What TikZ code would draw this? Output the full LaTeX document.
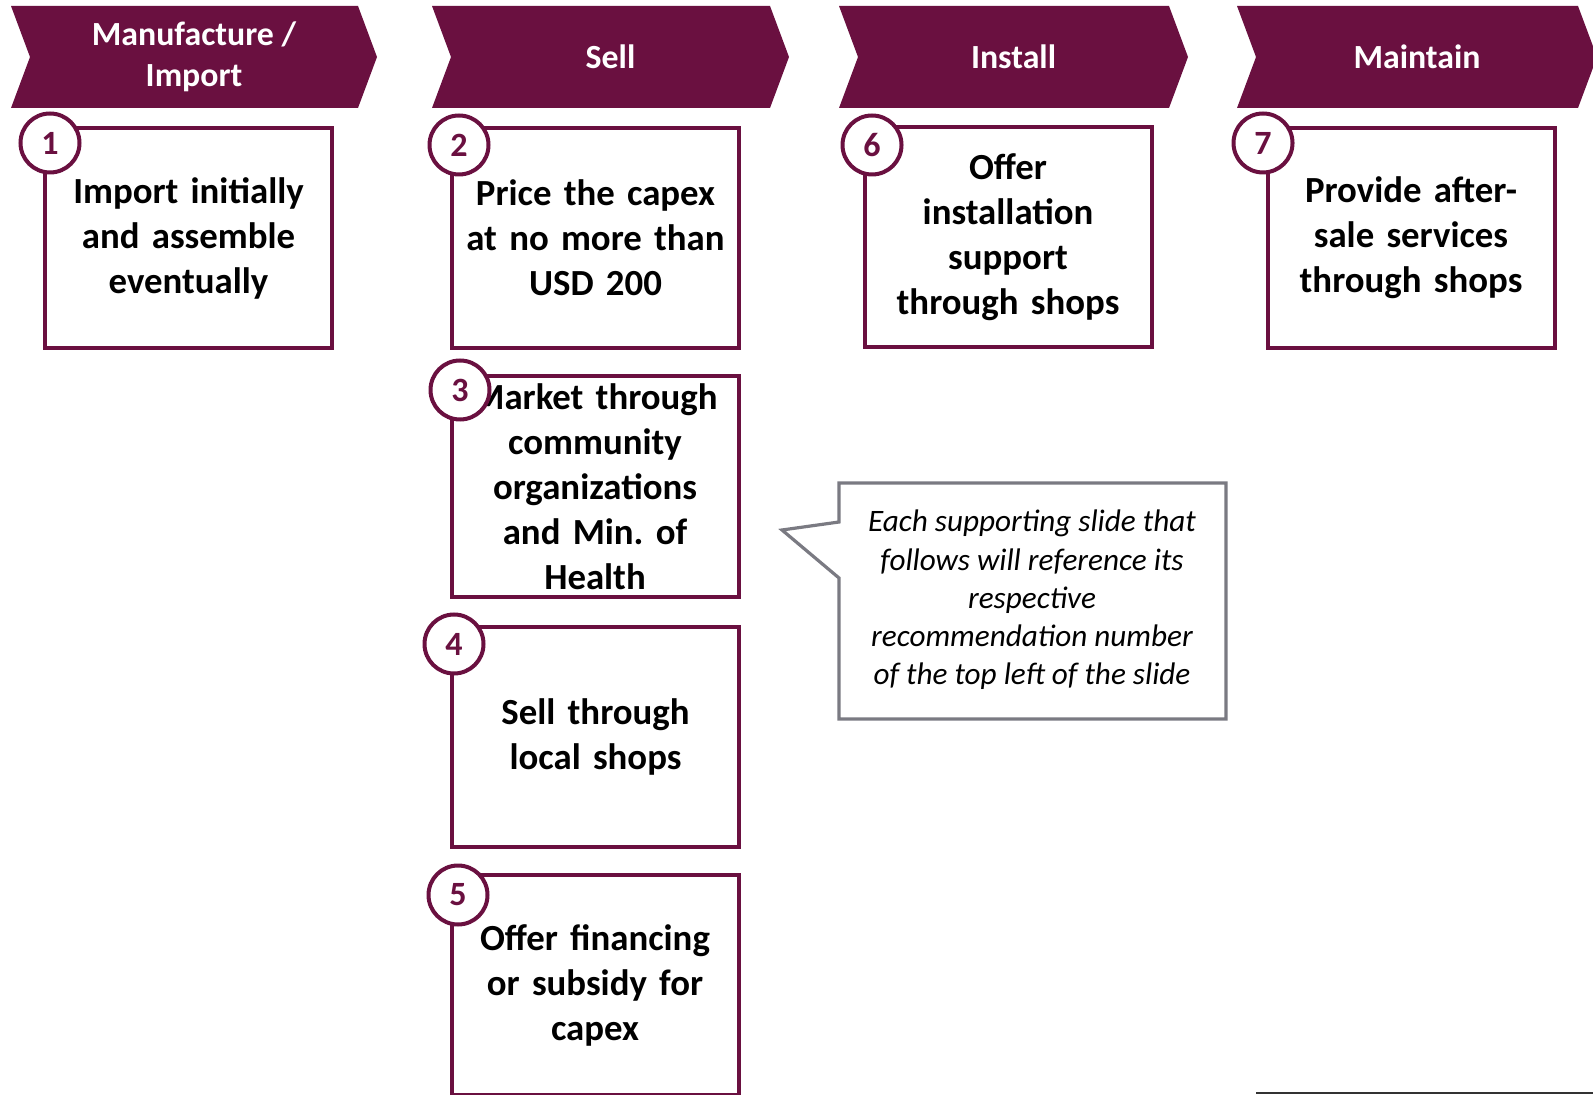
\documentclass[tikz,border=0pt]{standalone}
\usepackage{fontspec}
\setmainfont{Carlito}
\usetikzlibrary{positioning}
\definecolor{plum}{RGB}{106,16,64}
\definecolor{notegray}{RGB}{122,122,130}
\definecolor{rulegray}{RGB}{51,51,51}
\frenchspacing

\begin{document}
\begin{tikzpicture}[x=0.5pt,y=-0.5pt,
  stage/.style={text=white,align=center,font=\fontsize{16.9}{20.3}\selectfont\bfseries},
  recbox/.style={draw=plum,line width=2pt,fill=white,minimum width=143.5pt,minimum height=110pt,
    inner sep=0pt,text width=140pt,align=center,font=\fontsize{18.4}{22.5}\selectfont\bfseries},
  recnum/.style={circle,draw=plum,line width=2pt,fill=white,minimum size=29.5pt,inner sep=0pt,
    text=plum,font=\fontsize{17}{20}\selectfont\bfseries}]
\useasboundingbox (0,0) rectangle (1593,1095);
\foreach \x/\w/\hname/\hlabel in {11/347/h1/{Manufacture /\\Import},432/338/h2/Sell,839/330/h3/Install,1237/341/h4/Maintain}{
  \fill[plum] (\x,6) -- ++(\w,0) -- ++(19,51) -- ++(-19,51) -- ++(-\w,0) -- ++(19,-51) -- cycle;
  \node[stage] (\hname) at ({\x+\w/2+9.5},57) {\hlabel};
}
\node[recbox] (b1) at (188.5,238) {Import initially\\and assemble\\eventually};
\node[recbox] (b2) at (595.5,238) {Price the capex\\at no more than\\USD 200};
\node[recbox] (b3) at (595,486.5) {Market through\\community\\organizations\\and Min. of\\Health};
\node[recbox] (b4) at (595.5,737) {Sell through\\local shops};
\node[recbox] (b5) at (595,985) {Offer financing\\or subsidy for\\capex};
\node[recbox] (b6) at (1008,237) {Offer\\installation\\support\\through shops};
\node[recbox] (b7) at (1411,238) {Provide after-\\sale services\\through shops};
\node[recnum] (n1) at (50,143) {1};
\node[recnum] (n2) at (459,145) {2};
\node[recnum] (n3) at (460,390) {3};
\node[recnum] (n4) at (454,644) {4};
\node[recnum] (n5) at (458,895) {5};
\node[recnum] (n6) at (872,145) {6};
\node[recnum] (n7) at (1263,143) {7};
\draw[notegray,line width=1.6pt,fill=white,line join=miter] (839,483) -- (1226,483) -- (1226,719) -- (839,719) -- (839,578) -- (782,530) -- (839,522) -- cycle;
\node[align=center,font=\fontsize{15.6}{19.1}\selectfont\itshape] (note) at (1032,600) {Each supporting slide that\\follows will reference its\\respective\\recommendation number\\of the top left of the slide};
\draw[rulegray,line width=1.2pt] (1256,1093) -- (1593,1093);
\end{tikzpicture}
\end{document}
